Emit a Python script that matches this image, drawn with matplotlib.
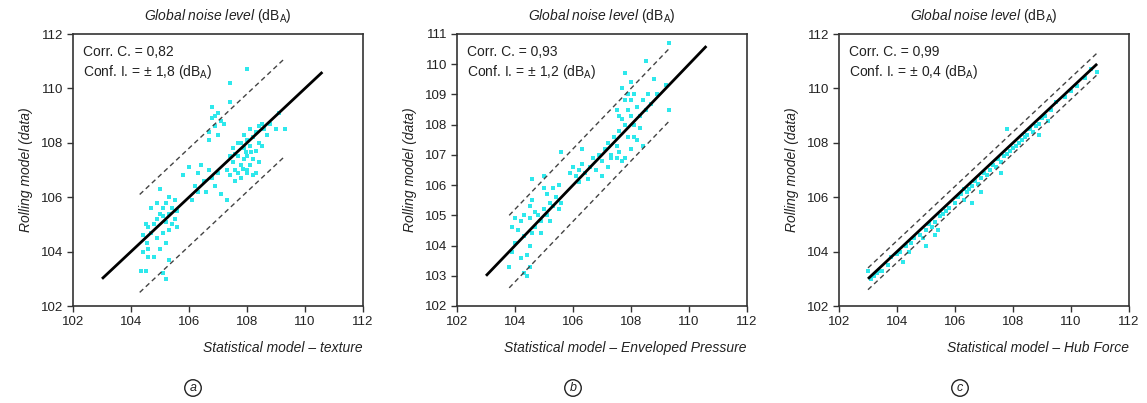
import matplotlib
matplotlib.use("Agg")
import matplotlib.pyplot as plt
import numpy as np

plt.rcParams['font.family'] = ['Liberation Sans', 'DejaVu Sans']
plt.rcParams['mathtext.fontset'] = 'custom'
plt.rcParams['mathtext.rm'] = 'Liberation Sans'
plt.rcParams['mathtext.it'] = 'Liberation Sans:italic'

# ---------------- data ----------------
panel_letters = ["a", "b", "c"]
x_labels = ["Statistical model \u2013 texture",
            "Statistical model \u2013 Enveloped Pressure",
            "Statistical model \u2013 Hub Force"]
corr_values = ["0,82", "0,93", "0,99"]
conf_values = [1.8, 1.2, 0.4]
conf_labels = ["1,8", "1,2", "0,4"]
x_ticks = [102, 104, 106, 108, 110, 112]
y_ticks_a = [102, 104, 106, 108, 110, 112]
y_ticks_b = [102, 103, 104, 105, 106, 107, 108, 109, 110, 111]
y_ticks_c = [102, 104, 106, 108, 110, 112]
fit_start = [103.0, 103.0, 103.0]
fit_end = [110.6, 110.6, 110.9]
band_start = [104.3, 103.8, 103.0]
band_end = [109.3, 109.3, 110.9]

pts_a = [(104.35,103.3),(104.5,103.3),(104.4,104.0),(104.55,104.3),(104.4,104.6),(104.6,104.9),
         (104.5,105.0),(104.7,104.7),(104.8,105.0),(104.9,105.2),(105.0,105.4),(105.1,105.3),
         (105.2,105.1),(105.1,105.6),(105.3,105.4),(105.2,105.8),(105.4,105.6),(105.3,106.0),
         (105.5,105.9),(105.0,106.3),(104.9,105.8),(104.7,105.6),(105.4,105.0),(105.5,105.2),
         (105.3,104.8),(105.1,104.7),(104.9,104.5),(105.0,104.1),(105.2,104.3),(104.8,103.8),
         (105.3,103.7),(105.1,103.2),(105.2,103.0),(104.6,103.8),(105.6,104.9),(105.6,105.5),
         (104.6,104.1),
         (105.8,106.8),(106.0,107.1),(106.2,106.4),(106.3,106.9),(106.5,106.6),(106.1,105.9),
         (106.6,106.2),(106.8,106.7),(106.9,106.4),(107.1,106.1),(107.3,105.9),(106.4,107.2),
         (106.7,107.0),(107.0,106.9),(106.3,106.2),
         (106.7,108.4),(106.8,108.9),(106.9,108.6),(107.0,109.1),(107.1,108.8),(106.8,109.3),
         (106.9,109.0),(107.2,108.7),(107.0,108.3),(107.4,109.5),(107.4,110.2),(108.0,110.7),
         (106.7,108.1),
         (107.3,107.0),(107.4,106.8),(107.5,107.3),(107.6,107.0),(107.7,107.5),(107.8,107.2),
         (107.9,107.8),(108.0,107.5),(108.1,107.9),(108.2,108.2),(108.3,107.7),(108.0,108.1),
         (107.9,107.4),(107.7,106.9),(107.6,106.6),(107.8,106.7),(108.1,107.2),(108.3,108.4),
         (108.4,108.0),(108.5,108.7),(108.6,108.5),(108.4,108.6),(108.2,107.4),(108.0,106.9),
         (107.5,107.8),(107.7,108.0),(107.9,108.3),(108.1,108.5),(107.6,107.6),(107.8,108.0),
         (108.3,106.9),(107.4,107.5),(108.5,107.9),(108.7,108.3),(108.0,107.0),(107.95,107.65),
         (108.15,107.65),(107.85,107.05),(108.2,106.8),(108.4,107.3),
         (109.0,108.5),(109.3,108.5),(109.1,109.1),(108.8,108.7)]

pts_b = [(103.8,103.3),(103.9,103.8),(104.0,104.1),(104.1,104.5),(104.2,104.8),(104.0,104.9),
         (103.9,104.6),(104.3,104.3),(104.2,103.6),(104.3,103.1),(104.4,103.0),(104.5,103.3),
         (104.4,103.7),(104.5,104.0),(104.6,104.4),(104.5,104.9),(104.7,105.1),(104.6,105.5),
         (104.5,105.3),(104.8,105.0),(104.9,104.8),(105.0,105.2),(105.1,105.0),(105.2,105.4),
         (105.3,105.3),(105.1,105.7),(105.0,105.9),(104.6,106.2),(105.0,106.3),(105.3,105.9),
         (105.4,105.6),(105.5,105.2),(105.6,105.4),(105.5,106.0),(105.2,104.8),(104.9,104.4),
         (104.7,104.6),(105.6,107.1),(104.3,105.0),
         (105.9,106.4),(106.0,106.6),(106.1,106.3),(106.2,106.5),(106.3,106.7),(106.4,106.4),
         (106.2,106.1),(106.5,106.2),(106.6,106.6),(106.3,107.2),(106.7,106.9),(106.9,107.0),
         (107.0,106.8),(107.1,107.2),(106.8,106.5),(107.2,106.6),(107.0,106.3),(107.3,106.9),
         (107.2,107.4),
         (107.4,107.6),(107.5,107.3),(107.6,107.8),(107.7,108.2),(107.8,108.0),(107.9,108.5),
         (108.0,108.3),(108.1,108.0),(108.2,108.6),(107.8,108.8),(107.9,109.0),(107.7,109.2),
         (108.0,108.8),(108.1,109.0),(108.3,108.3),(108.4,108.8),(108.5,108.5),(108.6,109.0),
         (108.7,108.7),(108.8,109.5),(108.9,109.0),(107.6,107.1),(107.7,106.8),(108.0,107.2),
         (108.2,107.5),(108.3,107.9),(107.9,107.6),(107.5,108.5),(107.6,108.3),(108.1,107.6),
         (107.8,106.9),(108.4,107.3),(107.5,106.9),(107.3,107.0),(108.5,110.1),(109.3,110.7),
         (109.3,108.5),(109.2,109.3),(108.0,109.4),(107.8,109.7)]

pts_c = [(103.0,103.3),(103.1,103.0),(103.2,103.1),(103.3,103.2),(103.4,103.3),(103.5,103.3),
         (103.7,103.5),(103.8,103.8),(104.0,103.9),(104.2,103.6),(104.1,104.0),(104.3,104.2),
         (104.5,104.3),(104.6,104.5),(104.8,104.6),(104.9,104.5),(105.0,104.2),(105.0,104.8),
         (105.1,105.0),(105.2,104.9),(105.3,105.1),(105.4,104.8),(105.5,105.3),(105.6,105.4),
         (105.7,105.5),(105.8,105.6),(106.0,105.8),(106.1,106.0),(106.2,106.1),(106.3,105.9),
         (106.4,106.2),(106.5,106.3),(106.6,105.8),(106.6,106.4),(106.7,106.6),(106.8,106.5),
         (106.9,106.7),(107.0,106.9),(107.1,106.8),(107.2,107.0),(107.3,107.2),(107.4,107.1),
         (107.5,107.4),(107.6,107.3),(107.7,107.5),(107.8,108.5),(107.8,107.6),(107.9,107.7),
         (108.0,107.8),(108.1,107.9),(108.2,108.0),(108.3,108.1),(108.4,108.2),(108.5,108.3),
         (108.6,108.5),(108.7,108.4),(108.8,108.6),(108.9,108.7),(109.0,108.9),(109.1,109.0),
         (109.3,109.2),(109.2,108.8),(109.5,109.5),(109.8,109.7),(110.0,109.9),(110.2,110.1),
         (110.5,110.4),(110.9,110.6),(110.7,110.7),(105.3,104.6),(106.9,106.2),(104.4,104.0),
         (107.6,106.9),(108.9,108.3),(106.3,106.3)]

all_pts = [pts_a, pts_b, pts_c]
y_lims = [(102, 112), (102, 111), (102, 112)]
y_ticks_all = [y_ticks_a, y_ticks_b, y_ticks_c]

# ---------------- figure ----------------
W, H = 1147, 403
fig = plt.figure(figsize=(W / 100, H / 100), dpi=100)
lefts = [73, 457, 839]
ax_w, ax_top, ax_bot = 290, 34, 306
label_x = [193, 573, 960]

frame_col = "#333333"
text_col = "#222222"

for i in range(3):
    ax = fig.add_axes([lefts[i] / W, (H - ax_bot) / H, ax_w / W, (ax_bot - ax_top) / H])
    pts = np.array(all_pts[i])
    ax.plot(pts[:, 0], pts[:, 1], 's', color='#2ee8ec', markersize=2.2,
            markeredgewidth=0, zorder=2)
    fx = np.array([fit_start[i], fit_end[i]])
    ax.plot(fx, fx, color='black', lw=2.0, zorder=3, solid_capstyle='butt')
    bx = np.array([band_start[i], band_end[i]])
    for s in (1, -1):
        ax.plot(bx, bx + s * conf_values[i], color='#444444', lw=1.0,
                dashes=(3.5, 2.5), zorder=3)
    ax.set_xlim(102, 112)
    ax.set_ylim(*y_lims[i])
    ax.set_xticks(x_ticks)
    ax.set_yticks(y_ticks_all[i])
    ax.tick_params(direction='out', length=4, width=1.0, color=frame_col,
                   labelsize=9.5, labelcolor=text_col, pad=3)
    for sp in ax.spines.values():
        sp.set_color(frame_col)
        sp.set_linewidth(1.2)
    ax.set_ylabel("Rolling model (data)", fontstyle='italic', fontsize=10,
                  color=text_col, labelpad=6)
    ax.text(1.0, -0.155, x_labels[i], transform=ax.transAxes, ha='right',
            va='center', fontstyle='italic', fontsize=10, color=text_col)
    ax.text(0.5, 1.065, r"$\it{Global\ noise\ level}$ (dB$_\mathrm{A}$)",
            transform=ax.transAxes, ha='center', va='center', fontsize=10,
            color=text_col)
    ax.text(0.035, 0.935, "Corr. C. = " + corr_values[i], transform=ax.transAxes,
            ha='left', va='center', fontsize=10, color=text_col)
    ax.text(0.035, 0.86, "Conf. I. = \u00b1 " + conf_labels[i] + r" (dB$_\mathrm{A}$)",
            transform=ax.transAxes, ha='left', va='center', fontsize=10, color=text_col)
    fig.text(label_x[i] / W, (H - 388) / H, panel_letters[i], ha='center', va='center',
             fontstyle='italic', fontsize=9, color=text_col,
             bbox=dict(boxstyle='circle,pad=0.18', fc='white', ec=text_col, lw=1.0))

fig.savefig("out.png", dpi=100, facecolor='white')
